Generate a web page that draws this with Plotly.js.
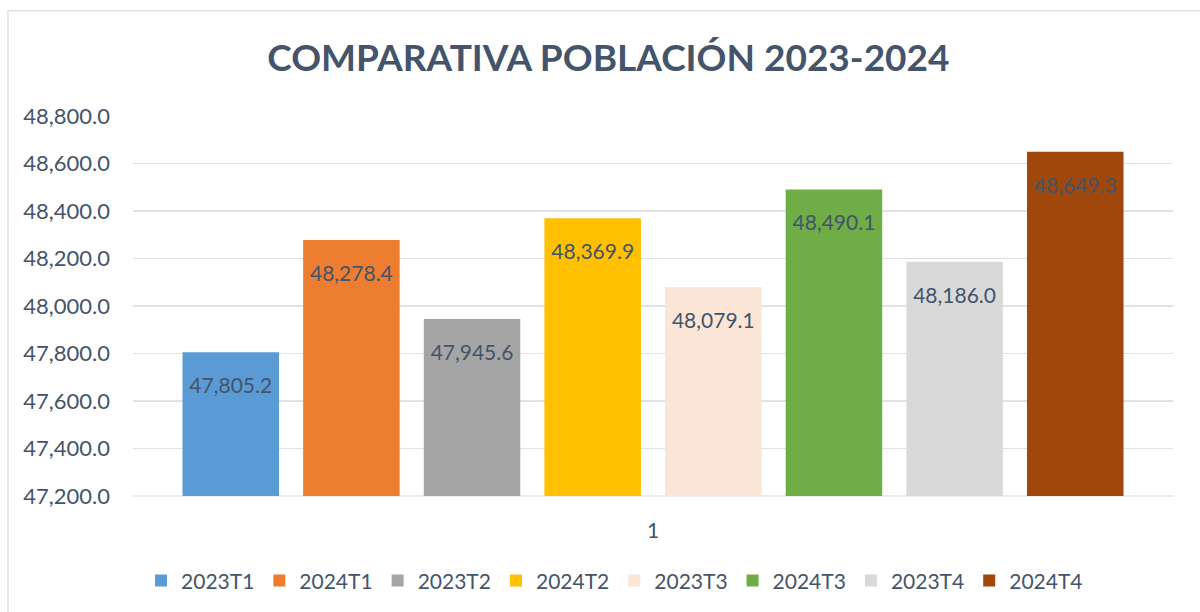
<!DOCTYPE html>
<html>
<head>
<meta charset="utf-8">
<script src="https://cdn.plot.ly/plotly-3.0.1.min.js"></script>
<style>
  html, body { margin: 0; padding: 0; background: #ffffff; }
  #chart { width: 1200px; height: 612px; }
</style>
</head>
<body>
<div id="chart"></div>
<script>
const seriesNames = ["2023T1", "2024T1", "2023T2", "2024T2", "2023T3", "2024T3", "2023T4", "2024T4"];
const seriesValues = [47805.2, 48278.4, 47945.6, 48369.9, 48079.1, 48490.1, 48186.0, 48649.3];
const category = ["1"];
const seriesColors = ["#5b9bd5", "#ed7d31", "#a5a5a5", "#ffc000", "#fbe5d6", "#70ad47", "#d9d9d9", "#a0470c"];

const textColor = "#44546a";
const fontFam = "Lato, 'Open Sans', sans-serif";

const traces = seriesNames.map((name, i) => ({
  type: "bar",
  name: name,
  x: category,
  y: [seriesValues[i]],
  marker: { color: seriesColors[i], line: { width: 0 } },
  texttemplate: "<sub>\u00a0</sub><br>%{y:,.1f}",
  textposition: "inside",
  insidetextanchor: "end",
  textangle: 0,
  constraintext: "none",
  insidetextfont: { family: fontFam, size: 21, color: textColor },
  hoverinfo: "none"
}));

const layout = {
  width: 1200,
  height: 612,
  margin: { l: 133, r: 27, t: 116, b: 115 },
  paper_bgcolor: "#ffffff",
  plot_bgcolor: "#ffffff",
  font: { family: fontFam, color: textColor },
  title: {
    text: "<b>COMPARATIVA POBLACIÓN 2023-2024</b>",
    font: { family: fontFam, size: 37, color: textColor },
    x: 0.507,
    xanchor: "center",
    y: 0.905,
    yanchor: "middle"
  },
  barmode: "group",
  bargap: 0.072,
  bargroupgap: 0.2,
  showlegend: true,
  legend: {
    orientation: "h",
    x: 0.463,
    xanchor: "center",
    y: -0.22,
    yanchor: "middle",
    font: { family: fontFam, size: 21, color: textColor },
    itemwidth: 30,
    traceorder: "normal"
  },
  xaxis: {
    type: "category",
    showgrid: false,
    showline: false,
    zeroline: false,
    ticks: "",
    tickfont: { size: 21, color: textColor },
    ticklabelstandoff: 20
  },
  yaxis: {
    range: [47200, 48800],
    dtick: 200,
    tick0: 47200,
    tickformat: ",.1f",
    showgrid: true,
    gridcolor: "#dfe3e8",
    gridwidth: 1.5,
    zeroline: false,
    showline: false,
    ticks: "",
    tickfont: { size: 22, color: textColor },
    ticklabelstandoff: 22
  },
  shapes: [
    {
      type: "rect", xref: "paper", yref: "paper",
      x0: (8 - 133) / 1040, x1: 1.1, y0: -0.4, y1: (497 - 10.5) / 381,
      line: { color: "#dde3ea", width: 1.5 }, fillcolor: "rgba(0,0,0,0)", layer: "below"
    },
    {
      type: "line", xref: "paper", yref: "paper",
      x0: 0, x1: 1, y0: 0, y1: 0,
      line: { color: "#dfe3e8", width: 1.5 }, layer: "below"
    }
  ]
};

Plotly.newPlot("chart", traces, layout, { displayModeBar: false, staticPlot: true });
</script>
</body>
</html>
